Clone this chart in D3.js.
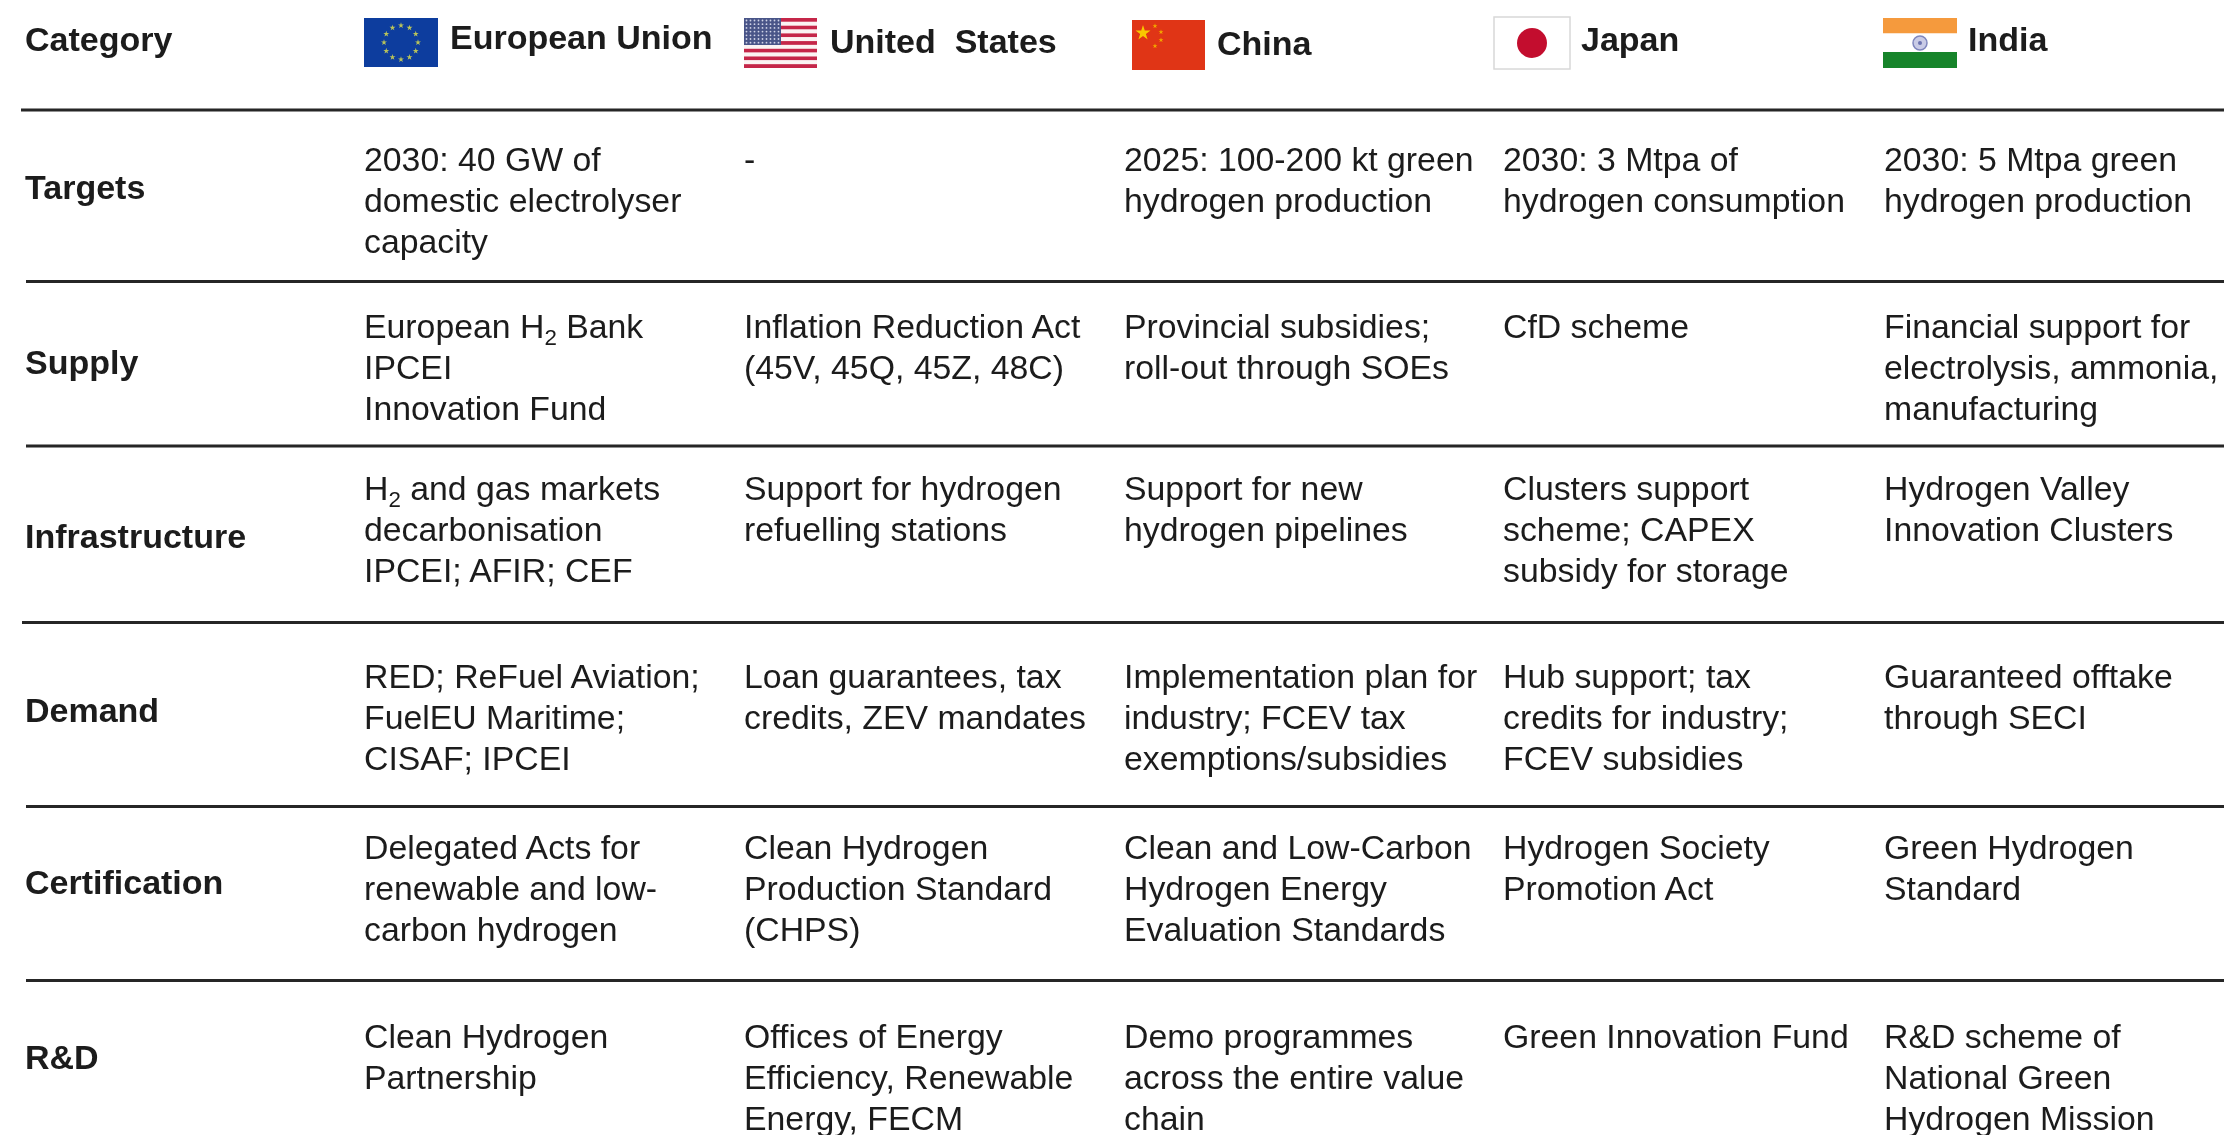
<!DOCTYPE html>
<html>
<head>
<meta charset="utf-8">
<script src="https://cdn.jsdelivr.net/npm/d3@7"></script>
<style>
html, body { margin: 0; padding: 0; background: #fff; }
svg { display: block; }
text { font-family: "Liberation Sans", Arial, sans-serif; fill: #1a1a1a; }
</style>
</head>
<body>
<div id="root"></div>
<script>
// table content
var columns = ["European Union", "United\u00a0\u00a0States", "China", "Japan", "India"];
var categories = ["Targets", "Supply", "Infrastructure", "Demand", "Certification", "R&D"];

var euCells = [
	["2030: 40 GW of", "domestic electrolyser", "capacity"],
	["European H₂ Bank", "IPCEI", "Innovation Fund"],
	["H₂ and gas markets", "decarbonisation", "IPCEI; AFIR; CEF"],
	["RED; ReFuel Aviation;", "FuelEU Maritime;", "CISAF; IPCEI"],
	["Delegated Acts for", "renewable and low-", "carbon hydrogen"],
	["Clean Hydrogen", "Partnership"]
];
var usCells = [
	["-"],
	["Inflation Reduction Act", "(45V, 45Q, 45Z, 48C)"],
	["Support for hydrogen", "refuelling stations"],
	["Loan guarantees, tax", "credits, ZEV mandates"],
	["Clean Hydrogen", "Production Standard", "(CHPS)"],
	["Offices of Energy", "Efficiency, Renewable", "Energy, FECM"]
];
var chinaCells = [
	["2025: 100-200 kt green", "hydrogen production"],
	["Provincial subsidies;", "roll-out through SOEs"],
	["Support for new", "hydrogen pipelines"],
	["Implementation plan for", "industry; FCEV tax", "exemptions/subsidies"],
	["Clean and Low-Carbon", "Hydrogen Energy", "Evaluation Standards"],
	["Demo programmes", "across the entire value", "chain"]
];
var japanCells = [
	["2030: 3 Mtpa of", "hydrogen consumption"],
	["CfD scheme"],
	["Clusters support", "scheme; CAPEX", "subsidy for storage"],
	["Hub support; tax", "credits for industry;", "FCEV subsidies"],
	["Hydrogen Society", "Promotion Act"],
	["Green Innovation Fund"]
];
var indiaCells = [
	["2030: 5 Mtpa green", "hydrogen production"],
	["Financial support for", "electrolysis, ammonia,", "manufacturing"],
	["Hydrogen Valley", "Innovation Clusters"],
	["Guaranteed offtake", "through SECI"],
	["Green Hydrogen", "Standard"],
	["R&D scheme of", "National Green", "Hydrogen Mission"]
];
var allCells = [euCells, usCells, chinaCells, japanCells, indiaCells];

// layout
var width = 2224, height = 1135;
var fontSize = 33.8, boldSize = 34, lineGap = 41;
var x = d3.scaleOrdinal().domain(columns).range([364, 744, 1124, 1503, 1884]);
var yFirstLine = d3.scaleOrdinal().domain(categories).range([171, 337.5, 500, 687.5, 859, 1048]);
var yLabel = d3.scaleOrdinal().domain(categories).range([199, 374, 548, 722, 894, 1069]);
var headX = d3.scaleOrdinal().domain(columns).range([450, 830, 1217, 1581, 1968]);
var headY = d3.scaleOrdinal().domain(columns).range([49, 53, 55, 51, 51]);
var ruleY = [110, 281.5, 446, 622.5, 806.5, 980.5];
var ruleStart = [21, 26, 26, 22, 26, 26];

var svg = d3.select("#root").append("svg")
	.attr("width", width)
	.attr("height", height);

var defs = svg.append("defs");
defs.append("filter").attr("id", "soft")
	.append("feGaussianBlur").attr("stdDeviation", 0.55);

var chart = svg.append("g").attr("filter", "url(#soft)");

// horizontal rules
chart.selectAll("line.rule")
	.data(ruleY)
	.enter().append("line")
	.attr("class", "rule")
	.attr("x1", function(d, i) { return ruleStart[i]; })
	.attr("x2", width)
	.attr("y1", function(d) { return d; })
	.attr("y2", function(d) { return d; })
	.attr("stroke", "#262626")
	.attr("stroke-width", 3);

// header
chart.append("text")
	.attr("x", 25).attr("y", 51)
	.attr("font-size", boldSize).attr("font-weight", "bold")
	.text("Category");

chart.selectAll("text.head")
	.data(columns)
	.enter().append("text")
	.attr("class", "head")
	.attr("x", function(d) { return headX(d); })
	.attr("y", function(d) { return headY(d); })
	.attr("font-size", boldSize).attr("font-weight", "bold")
	.text(function(d) { return d; });

// row labels
chart.selectAll("text.cat")
	.data(categories)
	.enter().append("text")
	.attr("class", "cat")
	.attr("x", 25)
	.attr("y", function(d) { return yLabel(d); })
	.attr("font-size", boldSize).attr("font-weight", "bold")
	.text(function(d) { return d; });

// writes one line, the H2 subscript gets its own tspan
function write_line(sel, str) {
	var parts = str.split("₂");
	parts.forEach(function(p, i) {
		var t = sel.append("tspan").text(p);
		if (i > 0) t.attr("dy", -7);
		if (i < parts.length - 1) {
			sel.append("tspan").attr("dy", 7).attr("font-size", fontSize * 0.66).text("2");
		}
	});
}

columns.forEach(function(col, c) {
	categories.forEach(function(cat, r) {
		allCells[c][r].forEach(function(str, l) {
			var t = chart.append("text")
				.attr("x", x(col))
				.attr("y", yFirstLine(cat) + l * lineGap)
				.attr("font-size", fontSize);
			write_line(t, str);
		});
	});
});

// flags
function flag(cx, cy) {
	return chart.append("g").attr("transform", "translate(" + cx + "," + cy + ")");
}

// EU
var eu = flag(364, 18);
eu.append("rect").attr("width", 74).attr("height", 49).attr("fill", "#0f3d9e");
d3.range(12).forEach(function(i) {
	var a = i / 12 * 2 * Math.PI;
	eu.append("path")
		.attr("d", d3.symbol(d3.symbolStar, 11))
		.attr("transform", "translate(" + (37 + 17 * Math.sin(a)) + "," + (24.5 - 17 * Math.cos(a)) + ")")
		.attr("fill", "#b9c45a");
});

// US
var us = flag(744, 18);
d3.range(13).forEach(function(i) {
	us.append("rect")
		.attr("y", i * 50 / 13)
		.attr("width", 73)
		.attr("height", 50 / 13)
		.attr("fill", i % 2 ? "#fbf3f3" : "#c5284a");
});
us.append("rect").attr("width", 37).attr("height", 27).attr("fill", "#4a5488");
d3.range(7).forEach(function(j) {
	d3.range(9).forEach(function(i) {
		us.append("circle")
			.attr("cx", 2.5 + i * 4).attr("cy", 2.5 + j * 3.7)
			.attr("r", 0.9).attr("fill", "#cfd3e6");
	});
});

// China
var cn = flag(1132, 20);
cn.append("rect").attr("width", 73).attr("height", 50).attr("fill", "#e03412");
cn.append("path")
	.attr("d", d3.symbol(d3.symbolStar, 70))
	.attr("transform", "translate(11,13)")
	.attr("fill", "#f8c800");
[[23, 6], [29, 12], [29, 20], [23, 26]].forEach(function(p) {
	cn.append("path")
		.attr("d", d3.symbol(d3.symbolStar, 8))
		.attr("transform", "translate(" + p[0] + "," + p[1] + ")")
		.attr("fill", "#f2a800");
});

// Japan
var jp = flag(1494, 17);
jp.append("rect").attr("width", 76).attr("height", 52)
	.attr("fill", "#fff").attr("stroke", "#d8d8d8").attr("stroke-width", 1.5);
jp.append("circle").attr("cx", 38).attr("cy", 26).attr("r", 15).attr("fill", "#c3102f");

// India
var ind = flag(1883, 18);
ind.append("rect").attr("width", 74).attr("height", 15.5).attr("fill", "#f59a3c");
ind.append("rect").attr("y", 15.5).attr("width", 74).attr("height", 18.5).attr("fill", "#fff");
ind.append("rect").attr("y", 34).attr("width", 74).attr("height", 16).attr("fill", "#17842a");
ind.append("circle").attr("cx", 37).attr("cy", 25).attr("r", 7)
	.attr("fill", "#c9cbe6").attr("stroke", "#7f86bd").attr("stroke-width", 1.5);
ind.append("circle").attr("cx", 37).attr("cy", 25).attr("r", 2).attr("fill", "#6c73b0");
</script>
</body>
</html>
